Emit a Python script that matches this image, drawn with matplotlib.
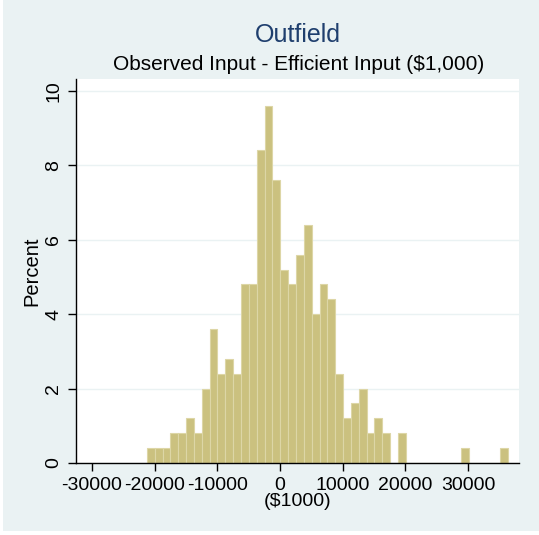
import matplotlib
matplotlib.use("Agg")
import matplotlib.pyplot as plt
import numpy as np

# histogram: percent per bin
bin_start = -21240
bin_width = 1252.5
percent = [0.4, 0.4, 0.4, 0.8, 0.8, 1.2, 0.8, 2.0, 3.6, 2.4,
           2.8, 2.4, 4.8, 4.8, 8.4, 9.6, 7.6, 5.2, 4.8, 5.6,
           6.4, 4.0, 4.8, 4.4, 2.4, 1.2, 1.6, 2.0, 0.8, 1.2,
           0.8, 0.0, 0.8, 0.0, 0.0, 0.0, 0.0, 0.0, 0.0, 0.0,
           0.4, 0.0, 0.0, 0.0, 0.0, 0.4]
x_ticks = [-30000, -20000, -10000, 0, 10000, 20000, 30000]
y_ticks = [0, 2, 4, 6, 8, 10]

edges = bin_start + bin_width * np.arange(len(percent) + 1)
centers = (edges[:-1] + edges[1:]) / 2

plt.rcParams['font.family'] = ['Liberation Sans', 'DejaVu Sans']
plt.rcParams['axes.unicode_minus'] = False
bg = '#EAF2F3'

fig = plt.figure(figsize=(5.39, 5.35), dpi=100)
fig.patch.set_facecolor('white')
fig.add_artist(plt.Rectangle((3 / 539, 4 / 535), 1, 1, transform=fig.transFigure,
                             facecolor=bg, edgecolor='none', zorder=-10))

ax = fig.add_axes([76 / 539, 72 / 535, 443 / 539, 384 / 535])
ax.hist(centers, bins=edges, weights=percent, color='#cbc17f',
        edgecolor='#ddd6a6', linewidth=0.8, zorder=2)

ax.set_xlim(-32550, 38150)
ax.set_ylim(0, 10.32)
ax.set_xticks(x_ticks)
ax.set_yticks(y_ticks)
ax.set_yticklabels([str(t) for t in y_ticks], rotation=90, va='center')
ax.tick_params(axis='both', direction='out', length=6, width=1, labelsize=14, pad=4)
ax.grid(axis='y', color=bg, linewidth=1, zorder=0)
for s in ['top', 'right']:
    ax.spines[s].set_visible(False)
for s in ['left', 'bottom']:
    ax.spines[s].set_linewidth(1)

ax.set_xlabel('($1000)', fontsize=14, labelpad=-1)
ax.set_ylabel('Percent', fontsize=14.5, labelpad=3)

fig.text(0.5535, 1 - 35 / 535, 'Outfield', ha='center', va='center',
         fontsize=18, color='#1f3f6e')
fig.text(0.5535, 1 - 65 / 535, 'Observed Input - Efficient Input ($1,000)',
         ha='center', va='center', fontsize=15)

fig.savefig('out.png', dpi=100, facecolor=fig.get_facecolor())
